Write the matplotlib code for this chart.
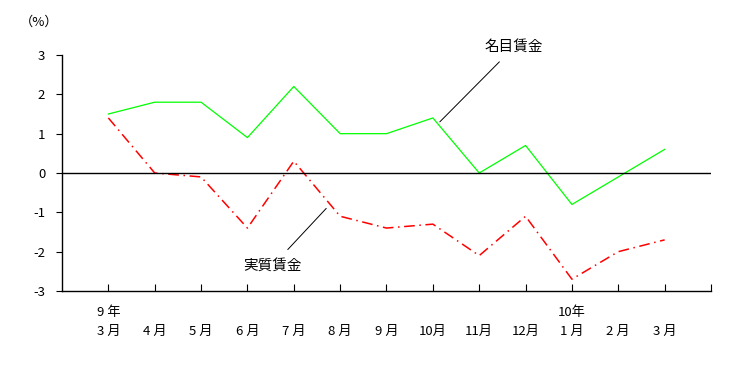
import matplotlib.pyplot as plt
import numpy as np

plt.rcParams['font.family'] = ['Noto Sans CJK JP', 'DejaVu Sans']

months = ['3 月', '4 月', '5 月', '6 月', '7 月', '8 月', '9 月',
          '10月', '11月', '12月', '1 月', '2 月', '3 月']
years = ['9 年', '', '', '', '', '', '', '', '', '', '10年', '', '']
nominal = [1.5, 1.8, 1.8, 0.9, 2.2, 1.0, 1.0, 1.4, 0.0, 0.7, -0.8, -0.1, 0.6]
real = [1.4, 0.0, -0.1, -1.4, 0.3, -1.1, -1.4, -1.3, -2.1, -1.1, -2.7, -2.0, -1.7]

fig = plt.figure(figsize=(7.35, 3.66), dpi=100)
ax = fig.add_axes([62 / 735, 1 - 291 / 366, (711 - 62) / 735, (291 - 55) / 366])

x = np.arange(len(months))
ax.plot(x, nominal, color='#00ff00', lw=0.9)
ax.plot(x, real, color='#ff0000', lw=1.1, linestyle=(0, (7, 3, 1, 3)))
ax.axhline(0, color='black', lw=1)

ax.set_xlim(-1, 13)
ax.set_ylim(-3, 3)
ax.set_yticks(range(-3, 4))
ax.set_yticklabels([str(v) for v in range(-3, 4)], fontsize=9.5)
ax.set_xticks(range(14))
ax.set_xticklabels([f'{y}\n{m}' for y, m in zip(years, months)] + [''],
                   fontsize=9.5, linespacing=1.55)
ax.tick_params(axis='x', direction='in', length=5, pad=11)
ax.tick_params(axis='y', direction='out', length=4, pad=8)
for s in ['top', 'right']:
    ax.spines[s].set_visible(False)
for s in ['left', 'bottom']:
    ax.spines[s].set_linewidth(1)

fig.text(20 / 735, 1 - 22 / 366, '（%）', fontsize=9.5, va='center')

ax.annotate('名目賃金', xy=(7.15, 1.3), xytext=(8.75, 3.2),
            fontsize=10.5, ha='center', va='center',
            arrowprops=dict(arrowstyle='-', color='black', lw=0.7,
                            shrinkA=5, shrinkB=0))
ax.annotate('実質賃金', xy=(4.7, -0.9), xytext=(3.55, -2.35),
            fontsize=10.5, ha='center', va='center',
            arrowprops=dict(arrowstyle='-', color='black', lw=0.7,
                            shrinkA=6, shrinkB=0))

fig.savefig('out.png')
